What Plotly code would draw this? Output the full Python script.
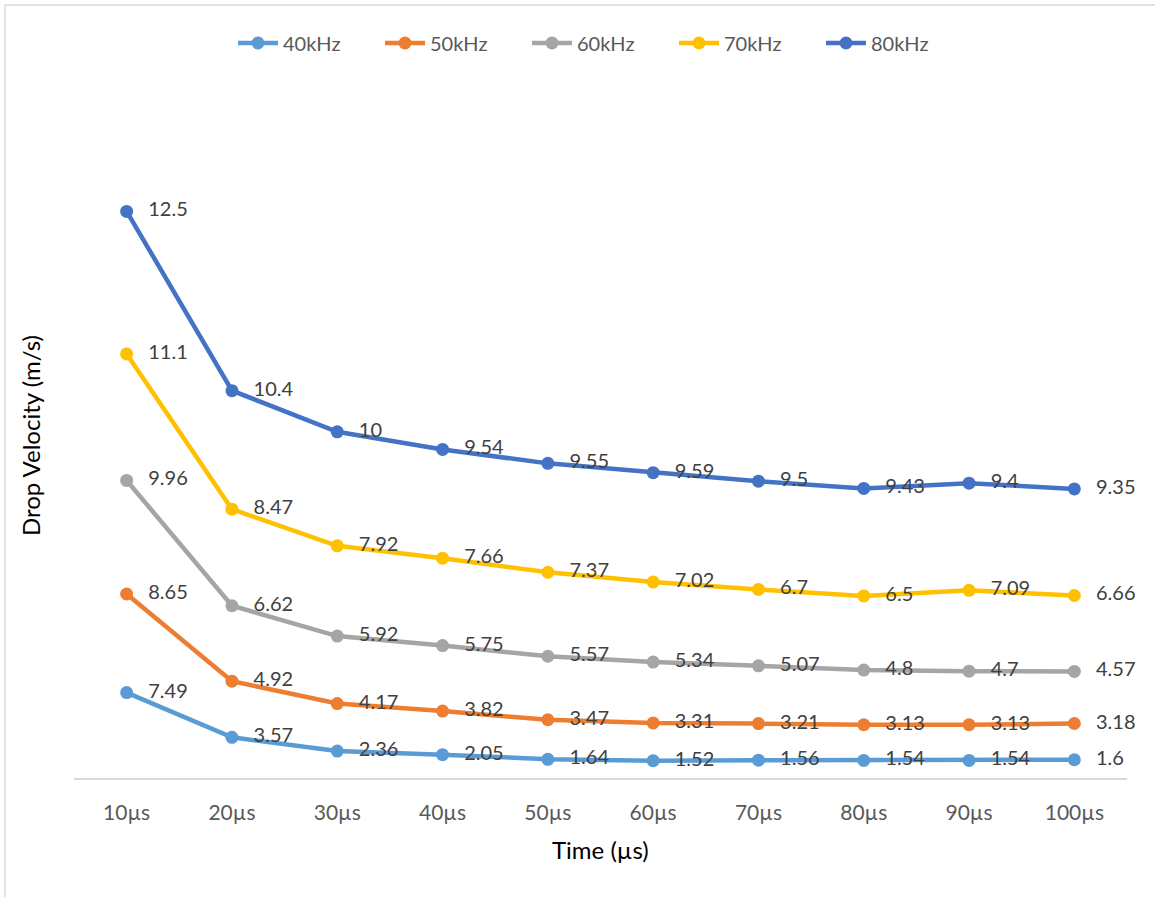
import plotly.graph_objects as go

# Categories and series (drop velocity, m/s) per excitation frequency
times = ["10µs", "20µs", "30µs", "40µs", "50µs", "60µs", "70µs", "80µs", "90µs", "100µs"]
v40 = [7.49, 3.57, 2.36, 2.05, 1.64, 1.52, 1.56, 1.54, 1.54, 1.6]
v50 = [8.65, 4.92, 4.17, 3.82, 3.47, 3.31, 3.21, 3.13, 3.13, 3.18]
v60 = [9.96, 6.62, 5.92, 5.75, 5.57, 5.34, 5.07, 4.8, 4.7, 4.57]
v70 = [11.1, 8.47, 7.92, 7.66, 7.37, 7.02, 6.7, 6.5, 7.09, 6.66]
v80 = [12.5, 10.4, 10, 9.54, 9.55, 9.59, 9.5, 9.43, 9.4, 9.35]

series = [
    ("40kHz", v40, "#5B9BD5"),
    ("50kHz", v50, "#ED7D31"),
    ("60kHz", v60, "#A5A5A5"),
    ("70kHz", v70, "#FFC000"),
    ("80kHz", v80, "#4472C4"),
]

FONT = "Lato, 'Open Sans', sans-serif"

W, H = 1155, 897
L, R, T, B = 74, 28, 94, 119

fig = go.Figure()
for name, vals, color in series:
    fig.add_trace(go.Scatter(
        x=times, y=vals, name=name,
        stackgroup="v", fill="none",
        mode="lines+markers+text",
        line=dict(color=color, width=4.5),
        marker=dict(color=color, size=13),
        # en space + thin space push the value label clear of the marker
        text=["\u2002\u2009" + f"{v:g}" for v in vals],
        textposition="middle right",
        textfont=dict(family=FONT, size=20, color="#404040"),
        cliponaxis=False,
    ))

pw = W - L - R
ph = H - T - B

fig.update_layout(
    width=W, height=H,
    margin=dict(l=L, r=R, t=T, b=B, autoexpand=False),
    paper_bgcolor="white", plot_bgcolor="white",
    font=dict(family=FONT, color="#595959"),
    showlegend=True,
    legend=dict(
        orientation="h", traceorder="normal",
        x=0.5, xanchor="center",
        yref="container", y=1 - 43 / H, yanchor="middle",
        font=dict(family=FONT, size=20, color="#595959"),
        itemwidth=40,
        entrywidth=92, entrywidthmode="pixels",
    ),
    xaxis=dict(
        type="category", range=[-0.5, 9.5],
        showline=True, linecolor="#D9D9D9", linewidth=1.5,
        showgrid=False, zeroline=False, ticks="",
        ticklabelstandoff=15,
        tickfont=dict(family=FONT, size=21, color="#595959"),
    ),
    yaxis=dict(
        range=[0, 60], visible=False,
        showgrid=False, zeroline=False,
    ),
    annotations=[
        dict(text="Time (µs)", xref="paper", yref="paper",
             x=0.5, y=-(850 - (H - B)) / ph, xanchor="center", yanchor="middle",
             showarrow=False, font=dict(family=FONT, size=24, color="#000000")),
        dict(text="Drop Velocity (m/s)", xref="paper", yref="paper",
             x=-(L - 30) / pw, y=0.5, xanchor="center", yanchor="middle",
             textangle=-90,
             showarrow=False, font=dict(family=FONT, size=24, color="#000000")),
    ],
    shapes=[
        # chart-area frame (left and top edges)
        dict(type="line", xref="paper", yref="paper",
             x0=-(L - 5) / pw, x1=-(L - 5) / pw,
             y0=-(B + 20) / ph, y1=(H - B - 5) / ph,
             line=dict(color="#D9D9D9", width=1.5)),
        dict(type="line", xref="paper", yref="paper",
             x0=-(L - 5) / pw, x1=1 + (R + 20) / pw,
             y0=(H - B - 5) / ph, y1=(H - B - 5) / ph,
             line=dict(color="#D9D9D9", width=1.5)),
    ],
)

fig.write_html("out.html")
